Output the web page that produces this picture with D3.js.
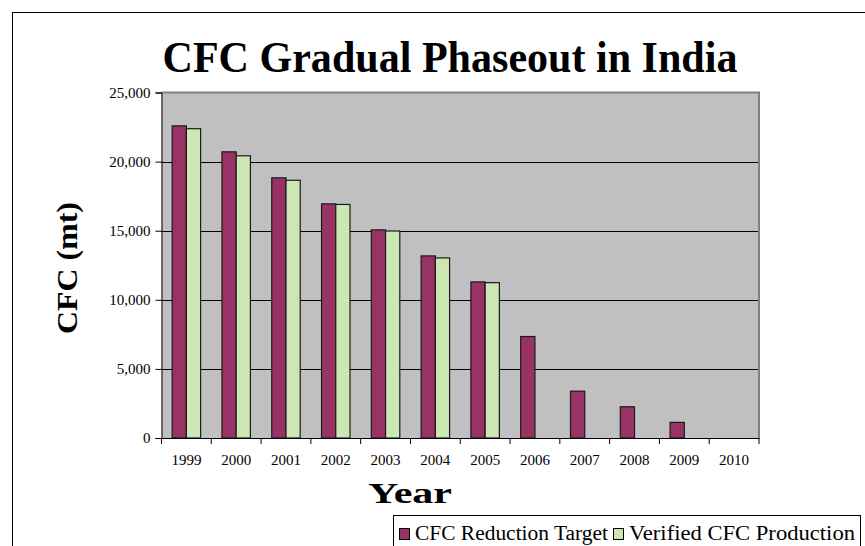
<!DOCTYPE html>
<html>
<head>
<meta charset="utf-8">
<script src="https://cdn.jsdelivr.net/npm/d3@7"></script>
<style>
  body { margin: 0; background: #fff; }
  text { font-family: "Liberation Serif", "Times New Roman", serif; }
</style>
</head>
<body>
<script>
// datos
var years = ["1999", "2000", "2001", "2002", "2003", "2004", "2005", "2006", "2007", "2008", "2009", "2010"]
var target = [22588, 20706, 18824, 16941, 15059, 13176, 11294, 7342, 3389, 2259, 1130, 0]
var verified = [22380, 20420, 18650, 16900, 14980, 13030, 11240, null, null, null, null, null]
var seriesNames = ["CFC Reduction Target", "Verified CFC Production"]
var yTicks = [0, 5000, 10000, 15000, 20000, 25000]

var colores = ["#993366", "#cce6b4"]

var W = 865, H = 546
var plot = {left: 161.5, right: 759, top: 92.5, bottom: 438}

var svg = d3.select("body").append("svg")
    .attr("width", W)
    .attr("height", H)

// marco exterior del grafico
svg.append("rect")
    .attr("x", 12.5).attr("y", 12.5)
    .attr("width", 880).attr("height", 580)
    .attr("fill", "#fff")
    .attr("stroke", "#000")
    .attr("stroke-width", 1)

var x = d3.scaleBand()
    .domain(years)
    .range([plot.left, plot.right])
    .padding(0)

var x1 = d3.scaleBand()
    .domain(seriesNames)
    .range([0, x.bandwidth()])
    .paddingInner(0)
    .paddingOuter(0.75)

var y = d3.scaleLinear()
    .domain([0, 25000])
    .range([plot.bottom, plot.top])

// fondo del area de trazado
svg.append("rect")
    .attr("x", plot.left).attr("y", plot.top)
    .attr("width", plot.right - plot.left)
    .attr("height", plot.bottom - plot.top)
    .attr("fill", "#c0c0c0")

// lineas de division
svg.append("g")
    .selectAll("line")
    .data(yTicks.filter(d => d > 0 && d < 25000))
    .enter()
    .append("line")
    .attr("x1", plot.left).attr("x2", plot.right)
    .attr("y1", d => Math.round(y(d)) + 0.5)
    .attr("y2", d => Math.round(y(d)) + 0.5)
    .attr("stroke", "#000")

// borde superior y derecho en gris
svg.append("path")
    .attr("d", "M" + plot.left + "," + plot.top + "H" + plot.right + "V" + plot.bottom)
    .attr("fill", "none")
    .attr("stroke", "#808080")
    .attr("stroke-width", 2)

// barras
var filas = years.map((yr, i) => ({year: yr, values: [target[i], verified[i]]}))

var grupos = svg.append("g")
    .selectAll("g")
    .data(filas)
    .enter()
    .append("g")
    .attr("transform", d => "translate(" + x(d.year) + ",0)")

grupos.selectAll("rect")
    .data(d => d.values.map((v, j) => ({serie: seriesNames[j], value: v, j: j})).filter(o => o.value !== null && o.value > 0))
    .enter()
    .append("rect")
    .attr("x", d => x1(d.serie))
    .attr("width", x1.bandwidth())
    .attr("y", d => y(d.value))
    .attr("height", d => y(0) - y(d.value))
    .attr("fill", d => colores[d.j])
    .attr("stroke", "#1a1a1a")
    .attr("stroke-width", 1.2)

// eje Y
var ejeY = svg.append("g")
    .attr("transform", "translate(" + plot.left + ",0)")
    .call(d3.axisLeft(y).tickValues(yTicks).tickSize(6).tickPadding(5).tickFormat(d3.format(",")))
ejeY.select(".domain").attr("stroke", "#000")
ejeY.selectAll("text").style("font-size", "15px").attr("fill", "#000")

// eje X: etiquetas en el centro, marcas en los limites de categoria
var ejeX = svg.append("g")
    .attr("transform", "translate(0," + plot.bottom + ")")
    .call(d3.axisBottom(x).tickSize(0).tickPadding(16))
ejeX.select(".domain").attr("stroke", "#000")
ejeX.selectAll("text").style("font-size", "15px").attr("fill", "#000")

svg.append("g")
    .selectAll("line")
    .data(years.map(d => x(d)).concat([plot.right]))
    .enter()
    .append("line")
    .attr("x1", d => d).attr("x2", d => d)
    .attr("y1", plot.bottom).attr("y2", plot.bottom + 6)
    .attr("stroke", "#000")

// titulos
svg.append("text")
    .attr("x", 450).attr("y", 72)
    .attr("text-anchor", "middle")
    .style("font-size", "44px")
    .style("font-weight", "bold")
    .attr("textLength", 575)
    .attr("lengthAdjust", "spacingAndGlyphs")
    .text("CFC Gradual Phaseout in India")

svg.append("text")
    .attr("transform", "translate(77,268) rotate(-90)")
    .attr("text-anchor", "middle")
    .style("font-size", "29px")
    .style("font-weight", "bold")
    .attr("textLength", 132)
    .attr("lengthAdjust", "spacingAndGlyphs")
    .text("CFC (mt)")

svg.append("text")
    .attr("x", 410).attr("y", 503)
    .attr("text-anchor", "middle")
    .style("font-size", "30px")
    .style("font-weight", "bold")
    .attr("textLength", 84)
    .attr("lengthAdjust", "spacingAndGlyphs")
    .text("Year")

// leyenda
var leyenda = svg.append("g")
leyenda.append("rect")
    .attr("x", 393.5).attr("y", 515.5)
    .attr("width", 467).attr("height", 60)
    .attr("fill", "#fff")
    .attr("stroke", "#000")

var anchos = [193, 226]
var posX = 399
seriesNames.forEach(function(nombre, i) {
    leyenda.append("rect")
        .attr("x", posX + 0.5).attr("y", 528.5)
        .attr("width", 10).attr("height", 11)
        .attr("fill", colores[i])
        .attr("stroke", "#000")
    leyenda.append("text")
        .attr("x", posX + 16).attr("y", 540)
        .style("font-size", "20px")
        .attr("textLength", anchos[i])
        .attr("lengthAdjust", "spacingAndGlyphs")
        .text(nombre)
    posX = posX + 16 + anchos[i] + 5
})
</script>
</body>
</html>
